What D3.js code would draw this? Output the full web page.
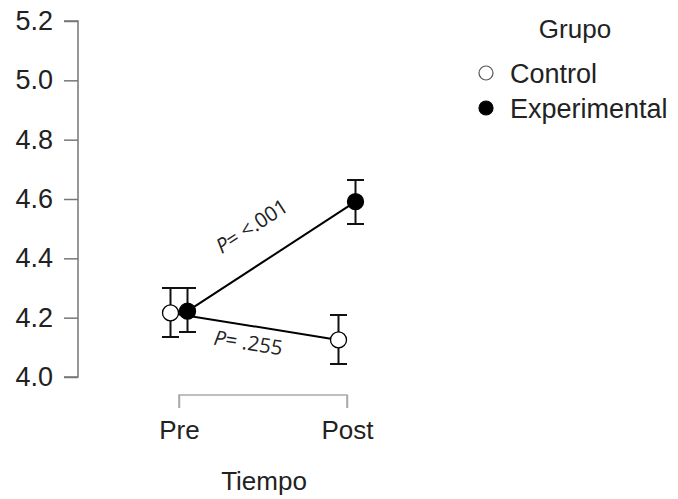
<!DOCTYPE html>
<html>
<head>
<meta charset="utf-8">
<script src="https://cdn.jsdelivr.net/npm/d3@7"></script>
<style>
  body { margin: 0; background: #fff; }
  svg { display: block; font-family: "Liberation Sans", Arial, sans-serif; }
</style>
</head>
<body>
<div class="chart"></div>
<script>
// data
const tiempos = ["Pre", "Post"];
const grupos = ["Control", "Experimental"];
const controlMean = [4.216, 4.125];
const controlLow = [4.135, 4.044];
const controlHigh = [4.300, 4.209];
const expMean = [4.222, 4.591];
const expLow = [4.152, 4.516];
const expHigh = [4.300, 4.664];
const yTicks = [4.0, 4.2, 4.4, 4.6, 4.8, 5.0, 5.2];
const pLabels = ["P= <.001", "P= .255"];

const width = 678, height = 499;
const fs = 26;

const svg = d3.select(".chart").append("svg")
    .attr("width", width)
    .attr("height", height);

const x = d3.scalePoint().domain(tiempos).range([179, 347]);
const y = d3.scaleLinear().domain([4.0, 5.2]).range([377, 21]);
const dodge = d3.scaleOrdinal().domain(grupos).range([-8.5, 8.5]);

const series = [
  { name: "Control", fill: "#fff", mean: controlMean, low: controlLow, high: controlHigh },
  { name: "Experimental", fill: "#000", mean: expMean, low: expLow, high: expHigh }
];

// y axis
const yAxis = svg.append("g")
    .attr("transform", "translate(78,0)")
    .call(d3.axisLeft(y).tickValues(yTicks).tickFormat(d3.format(".1f")).tickSize(14).tickPadding(11));
yAxis.select(".domain").attr("stroke", "#777").attr("stroke-width", 1.5)
    .attr("d", `M-14,${y(5.2)}H0V${y(4.0)}H-14`);
yAxis.selectAll(".tick line").attr("stroke", "#777").attr("stroke-width", 1.5);
yAxis.selectAll(".tick text").attr("font-size", fs + 1).attr("fill", "#222")
    .attr("font-family", "Liberation Sans, Arial, sans-serif");

// x axis (bracket style)
const xAxis = svg.append("g")
    .attr("transform", "translate(0,395)")
    .call(d3.axisBottom(x).tickSize(13).tickPadding(13));
xAxis.select(".domain").attr("stroke", "#aaa").attr("stroke-width", 1.5)
    .attr("d", `M${x("Pre")},13V0H${x("Post")}V13`);
xAxis.selectAll(".tick line").attr("stroke", "#aaa").attr("stroke-width", 1.5);
xAxis.selectAll(".tick text").attr("font-size", fs).attr("fill", "#222")
    .attr("font-family", "Liberation Sans, Arial, sans-serif");

svg.append("text")
    .attr("x", 264).attr("y", 490)
    .attr("text-anchor", "middle")
    .attr("font-size", fs).attr("fill", "#222")
    .text("Tiempo");

// lines
const line = d3.line()
    .x(d => d.x)
    .y(d => d.y);

const plot = svg.append("g");

[series[1], series[0]].forEach(s => {
  const pts = tiempos.map((t, i) => ({ x: x(t) + dodge(s.name), y: y(s.mean[i]) }));
  plot.append("path")
      .attr("d", line(pts))
      .attr("fill", "none")
      .attr("stroke", "#000")
      .attr("stroke-width", 2);
});

// error bars
series.forEach(s => {
  tiempos.forEach((t, i) => {
    const cx = x(t) + dodge(s.name);
    plot.append("path")
        .attr("d", `M${cx},${y(s.low[i])}V${y(s.high[i])}M${cx - 8.5},${y(s.low[i])}H${cx + 8.5}M${cx - 8.5},${y(s.high[i])}H${cx + 8.5}`)
        .attr("fill", "none")
        .attr("stroke", "#111")
        .attr("stroke-width", 2);
  });
});

series.forEach(s => {
  plot.selectAll(null)
      .data(tiempos)
      .enter()
      .append("circle")
      .attr("cx", d => x(d) + dodge(s.name))
      .attr("cy", (d, i) => y(s.mean[i]))
      .attr("r", 8)
      .attr("fill", s.fill)
      .attr("stroke", "#000")
      .attr("stroke-width", 1.3);
});

// p-value labels
const pPos = [
  { x: 253, y: 228, angle: -33 },
  { x: 248, y: 345, angle: 9 }
];
pLabels.forEach((lab, i) => {
  const t = svg.append("text")
      .attr("transform", `translate(${pPos[i].x},${pPos[i].y}) rotate(${pPos[i].angle})`)
      .attr("text-anchor", "middle")
      .attr("dominant-baseline", "middle")
      .attr("font-family", "Open Sans, sans-serif")
      .attr("font-size", 20.5)
      .attr("fill", "#222");
  t.append("tspan").attr("font-style", "italic").text(lab.slice(0, 1));
  t.append("tspan").text(lab.slice(1));
});

// legend
const legend = svg.append("g");
legend.append("text")
    .attr("x", 575).attr("y", 38)
    .attr("text-anchor", "middle")
    .attr("font-size", fs).attr("fill", "#222")
    .text("Grupo");

const items = legend.selectAll("g.item")
    .data(series)
    .enter()
    .append("g")
    .attr("class", "item")
    .attr("transform", (d, i) => `translate(486,${73 + i * 35})`);
items.append("circle")
    .attr("r", 7)
    .attr("fill", d => d.fill)
    .attr("stroke", d => d.name === "Control" ? "#555" : "#000")
    .attr("stroke-width", 1.2);
items.append("text")
    .attr("x", 24).attr("y", 10)
    .attr("font-size", fs + 1).attr("fill", "#222")
    .text(d => d.name);
</script>
</body>
</html>
